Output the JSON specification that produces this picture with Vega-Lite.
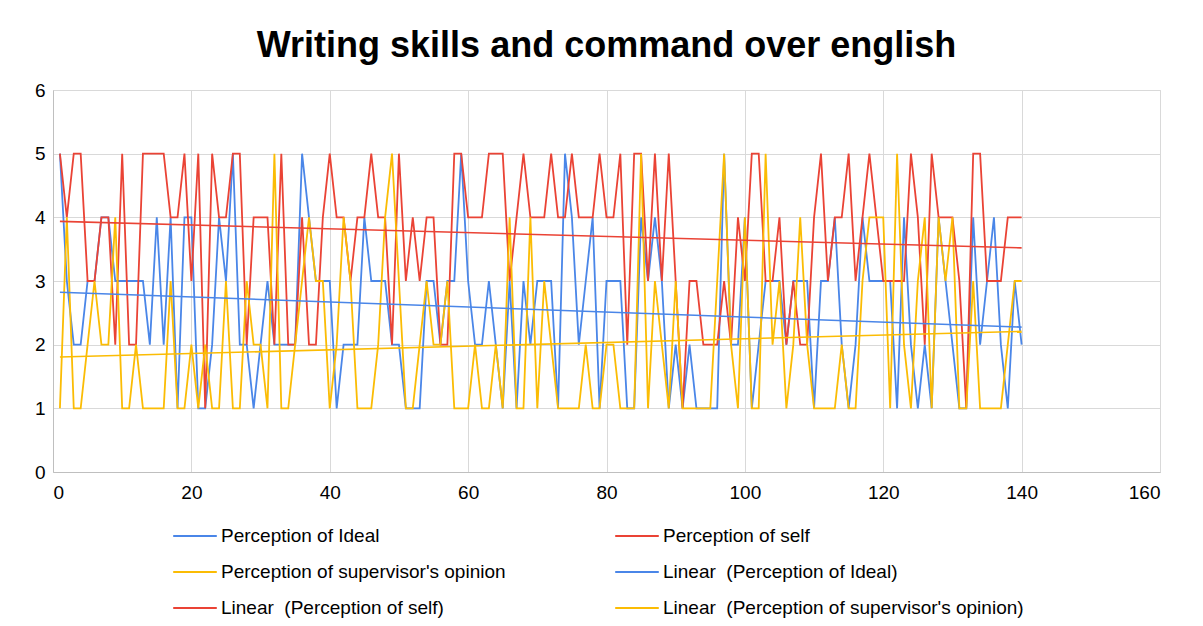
{
  "$schema": "https://vega.github.io/schema/vega-lite/v6.json",
  "autosize": {"type": "none"},
  "width": 1107,
  "height": 382,
  "padding": {"left": 53, "top": 90, "right": 43, "bottom": 154},
  "background": "#ffffff",
  "title": {
    "text": "Writing skills and command over english",
    "font": "Liberation Sans",
    "fontSize": 36,
    "fontWeight": "bold",
    "color": "#000000",
    "anchor": "middle",
    "offset": 16
  },
  "datasets": {
    "names": [
      {"key": "ideal", "series": "Perception of Ideal", "trend": "Linear\u00a0 (Perception of Ideal)"},
      {"key": "self", "series": "Perception of self", "trend": "Linear\u00a0 (Perception of self)"},
      {"key": "sup", "series": "Perception of supervisor's opinion", "trend": "Linear\u00a0 (Perception of supervisor's opinion)"}
    ],
    "scores": [
      {"x": 1, "ideal": 5, "self": 5, "sup": 1},
      {"x": 2, "ideal": 3, "self": 4, "sup": 4},
      {"x": 3, "ideal": 2, "self": 5, "sup": 1},
      {"x": 4, "ideal": 2, "self": 5, "sup": 1},
      {"x": 5, "ideal": 3, "self": 3, "sup": 2},
      {"x": 6, "ideal": 3, "self": 3, "sup": 3},
      {"x": 7, "ideal": 4, "self": 4, "sup": 2},
      {"x": 8, "ideal": 4, "self": 4, "sup": 2},
      {"x": 9, "ideal": 3, "self": 2, "sup": 4},
      {"x": 10, "ideal": 3, "self": 5, "sup": 1},
      {"x": 11, "ideal": 3, "self": 2, "sup": 1},
      {"x": 12, "ideal": 3, "self": 2, "sup": 2},
      {"x": 13, "ideal": 3, "self": 5, "sup": 1},
      {"x": 14, "ideal": 2, "self": 5, "sup": 1},
      {"x": 15, "ideal": 4, "self": 5, "sup": 1},
      {"x": 16, "ideal": 2, "self": 5, "sup": 1},
      {"x": 17, "ideal": 4, "self": 4, "sup": 3},
      {"x": 18, "ideal": 1, "self": 4, "sup": 1},
      {"x": 19, "ideal": 4, "self": 5, "sup": 1},
      {"x": 20, "ideal": 4, "self": 3, "sup": 2},
      {"x": 21, "ideal": 1, "self": 5, "sup": 1},
      {"x": 22, "ideal": 1, "self": 1, "sup": 2},
      {"x": 23, "ideal": 2, "self": 5, "sup": 1},
      {"x": 24, "ideal": 4, "self": 4, "sup": 1},
      {"x": 25, "ideal": 3, "self": 4, "sup": 3},
      {"x": 26, "ideal": 5, "self": 5, "sup": 1},
      {"x": 27, "ideal": 2, "self": 5, "sup": 1},
      {"x": 28, "ideal": 2, "self": 2, "sup": 3},
      {"x": 29, "ideal": 1, "self": 4, "sup": 2},
      {"x": 30, "ideal": 2, "self": 4, "sup": 2},
      {"x": 31, "ideal": 3, "self": 4, "sup": 1},
      {"x": 32, "ideal": 2, "self": 2, "sup": 5},
      {"x": 33, "ideal": 2, "self": 5, "sup": 1},
      {"x": 34, "ideal": 2, "self": 2, "sup": 1},
      {"x": 35, "ideal": 2, "self": 2, "sup": 2},
      {"x": 36, "ideal": 5, "self": 4, "sup": 3},
      {"x": 37, "ideal": 4, "self": 2, "sup": 4},
      {"x": 38, "ideal": 3, "self": 2, "sup": 3},
      {"x": 39, "ideal": 3, "self": 4, "sup": 3},
      {"x": 40, "ideal": 3, "self": 5, "sup": 1},
      {"x": 41, "ideal": 1, "self": 4, "sup": 2},
      {"x": 42, "ideal": 2, "self": 4, "sup": 4},
      {"x": 43, "ideal": 2, "self": 3, "sup": 3},
      {"x": 44, "ideal": 2, "self": 4, "sup": 1},
      {"x": 45, "ideal": 4, "self": 4, "sup": 1},
      {"x": 46, "ideal": 3, "self": 5, "sup": 1},
      {"x": 47, "ideal": 3, "self": 4, "sup": 2},
      {"x": 48, "ideal": 3, "self": 4, "sup": 4},
      {"x": 49, "ideal": 2, "self": 2, "sup": 5},
      {"x": 50, "ideal": 2, "self": 5, "sup": 3},
      {"x": 51, "ideal": 1, "self": 3, "sup": 1},
      {"x": 52, "ideal": 1, "self": 4, "sup": 1},
      {"x": 53, "ideal": 1, "self": 3, "sup": 2},
      {"x": 54, "ideal": 3, "self": 4, "sup": 3},
      {"x": 55, "ideal": 3, "self": 4, "sup": 2},
      {"x": 56, "ideal": 2, "self": 2, "sup": 2},
      {"x": 57, "ideal": 3, "self": 2, "sup": 3},
      {"x": 58, "ideal": 3, "self": 5, "sup": 1},
      {"x": 59, "ideal": 5, "self": 5, "sup": 1},
      {"x": 60, "ideal": 3, "self": 4, "sup": 1},
      {"x": 61, "ideal": 2, "self": 4, "sup": 2},
      {"x": 62, "ideal": 2, "self": 4, "sup": 1},
      {"x": 63, "ideal": 3, "self": 5, "sup": 1},
      {"x": 64, "ideal": 2, "self": 5, "sup": 2},
      {"x": 65, "ideal": 1, "self": 5, "sup": 1},
      {"x": 66, "ideal": 3, "self": 3, "sup": 4},
      {"x": 67, "ideal": 1, "self": 4, "sup": 1},
      {"x": 68, "ideal": 3, "self": 5, "sup": 1},
      {"x": 69, "ideal": 2, "self": 4, "sup": 4},
      {"x": 70, "ideal": 3, "self": 4, "sup": 1},
      {"x": 71, "ideal": 3, "self": 4, "sup": 3},
      {"x": 72, "ideal": 3, "self": 5, "sup": 2},
      {"x": 73, "ideal": 1, "self": 4, "sup": 1},
      {"x": 74, "ideal": 5, "self": 4, "sup": 1},
      {"x": 75, "ideal": 4, "self": 5, "sup": 1},
      {"x": 76, "ideal": 2, "self": 4, "sup": 1},
      {"x": 77, "ideal": 3, "self": 4, "sup": 2},
      {"x": 78, "ideal": 4, "self": 4, "sup": 1},
      {"x": 79, "ideal": 1, "self": 5, "sup": 1},
      {"x": 80, "ideal": 3, "self": 4, "sup": 2},
      {"x": 81, "ideal": 3, "self": 4, "sup": 2},
      {"x": 82, "ideal": 3, "self": 5, "sup": 1},
      {"x": 83, "ideal": 1, "self": 2, "sup": 1},
      {"x": 84, "ideal": 1, "self": 5, "sup": 1},
      {"x": 85, "ideal": 4, "self": 5, "sup": 5},
      {"x": 86, "ideal": 3, "self": 3, "sup": 1},
      {"x": 87, "ideal": 4, "self": 5, "sup": 3},
      {"x": 88, "ideal": 3, "self": 3, "sup": 2},
      {"x": 89, "ideal": 1, "self": 5, "sup": 1},
      {"x": 90, "ideal": 2, "self": 3, "sup": 3},
      {"x": 91, "ideal": 1, "self": 1, "sup": 1},
      {"x": 92, "ideal": 2, "self": 3, "sup": 1},
      {"x": 93, "ideal": 1, "self": 3, "sup": 1},
      {"x": 94, "ideal": 1, "self": 2, "sup": 1},
      {"x": 95, "ideal": 1, "self": 2, "sup": 1},
      {"x": 96, "ideal": 1, "self": 2, "sup": 3},
      {"x": 97, "ideal": 5, "self": 3, "sup": 5},
      {"x": 98, "ideal": 2, "self": 2, "sup": 2},
      {"x": 99, "ideal": 2, "self": 4, "sup": 1},
      {"x": 100, "ideal": 4, "self": 3, "sup": 4},
      {"x": 101, "ideal": 1, "self": 5, "sup": 1},
      {"x": 102, "ideal": 2, "self": 5, "sup": 1},
      {"x": 103, "ideal": 3, "self": 3, "sup": 5},
      {"x": 104, "ideal": 3, "self": 3, "sup": 2},
      {"x": 105, "ideal": 3, "self": 4, "sup": 3},
      {"x": 106, "ideal": 2, "self": 2, "sup": 1},
      {"x": 107, "ideal": 3, "self": 3, "sup": 2},
      {"x": 108, "ideal": 3, "self": 2, "sup": 4},
      {"x": 109, "ideal": 3, "self": 2, "sup": 2},
      {"x": 110, "ideal": 1, "self": 4, "sup": 1},
      {"x": 111, "ideal": 3, "self": 5, "sup": 1},
      {"x": 112, "ideal": 3, "self": 3, "sup": 1},
      {"x": 113, "ideal": 4, "self": 4, "sup": 1},
      {"x": 114, "ideal": 2, "self": 4, "sup": 2},
      {"x": 115, "ideal": 1, "self": 5, "sup": 1},
      {"x": 116, "ideal": 2, "self": 3, "sup": 1},
      {"x": 117, "ideal": 4, "self": 4, "sup": 3},
      {"x": 118, "ideal": 3, "self": 5, "sup": 4},
      {"x": 119, "ideal": 3, "self": 4, "sup": 4},
      {"x": 120, "ideal": 3, "self": 3, "sup": 4},
      {"x": 121, "ideal": 3, "self": 3, "sup": 1},
      {"x": 122, "ideal": 1, "self": 3, "sup": 5},
      {"x": 123, "ideal": 4, "self": 3, "sup": 2},
      {"x": 124, "ideal": 2, "self": 5, "sup": 1},
      {"x": 125, "ideal": 1, "self": 4, "sup": 3},
      {"x": 126, "ideal": 2, "self": 2, "sup": 4},
      {"x": 127, "ideal": 1, "self": 5, "sup": 1},
      {"x": 128, "ideal": 4, "self": 4, "sup": 4},
      {"x": 129, "ideal": 3, "self": 4, "sup": 3},
      {"x": 130, "ideal": 2, "self": 4, "sup": 4},
      {"x": 131, "ideal": 1, "self": 3, "sup": 1},
      {"x": 132, "ideal": 1, "self": 1, "sup": 1},
      {"x": 133, "ideal": 4, "self": 5, "sup": 3},
      {"x": 134, "ideal": 2, "self": 5, "sup": 1},
      {"x": 135, "ideal": 3, "self": 3, "sup": 1},
      {"x": 136, "ideal": 4, "self": 3, "sup": 1},
      {"x": 137, "ideal": 2, "self": 3, "sup": 1},
      {"x": 138, "ideal": 1, "self": 4, "sup": 2},
      {"x": 139, "ideal": 3, "self": 4, "sup": 3},
      {"x": 140, "ideal": 2, "self": 4, "sup": 3}
    ]
  },
  "data": {"name": "scores"},
  "transform": [
    {"fold": ["ideal", "self", "sup"], "as": ["key", "value"]},
    {"lookup": "key", "from": {"data": {"name": "names"}, "key": "key", "fields": ["series", "trend"]}}
  ],
  "encoding": {
    "x": {
      "field": "x",
      "type": "quantitative",
      "scale": {"domain": [0, 160], "nice": false, "zero": true},
      "axis": {"values": [0, 20, 40, 60, 80, 100, 120, 140, 160], "title": null, "labelPadding": 11}
    },
    "y": {
      "field": "value",
      "type": "quantitative",
      "scale": {"domain": [0, 6], "nice": false},
      "axis": {"values": [0, 1, 2, 3, 4, 5, 6], "title": null, "labelPadding": 8}
    }
  },
  "layer": [
    {
      "mark": {"type": "line", "strokeWidth": 1.8},
      "encoding": {
        "color": {
          "field": "series",
          "type": "nominal",
          "scale": {
            "domain": [
              "Perception of Ideal",
              "Perception of supervisor's opinion",
              "Linear\u00a0 (Perception of self)",
              "Perception of self",
              "Linear\u00a0 (Perception of Ideal)",
              "Linear\u00a0 (Perception of supervisor's opinion)"
            ],
            "range": ["#4a86e8", "#fbbc04", "#ea4335", "#ea4335", "#4a86e8", "#fbbc04"]
          },
          "legend": {"title": null}
        }
      }
    },
    {
      "transform": [
        {"regression": "value", "on": "x", "groupby": ["trend"], "method": "linear"}
      ],
      "mark": {"type": "line", "strokeWidth": 1.6},
      "encoding": {
        "color": {"field": "trend", "type": "nominal"}
      }
    }
  ],
  "config": {
    "font": "Liberation Sans",
    "view": {"stroke": "#d9d9d9", "strokeWidth": 1},
    "axis": {
      "grid": true,
      "gridColor": "#d9d9d9",
      "gridWidth": 1,
      "domainColor": "#bfbfbf",
      "domainWidth": 1,
      "ticks": false,
      "labelFont": "Liberation Sans",
      "labelFontSize": 19,
      "labelColor": "#000000"
    },
    "legend": {
      "orient": "none",
      "legendX": 119,
      "legendY": 423,
      "columns": 2,
      "gridAlign": "all",
      "symbolType": "stroke",
      "symbolSize": 1900,
      "symbolStrokeWidth": 2,
      "labelFont": "Liberation Sans",
      "labelFontSize": 19,
      "labelOffset": 3,
      "labelColor": "#000000",
      "labelLimit": 600,
      "columnPadding": 29,
      "rowPadding": 3
    }
  }
}
